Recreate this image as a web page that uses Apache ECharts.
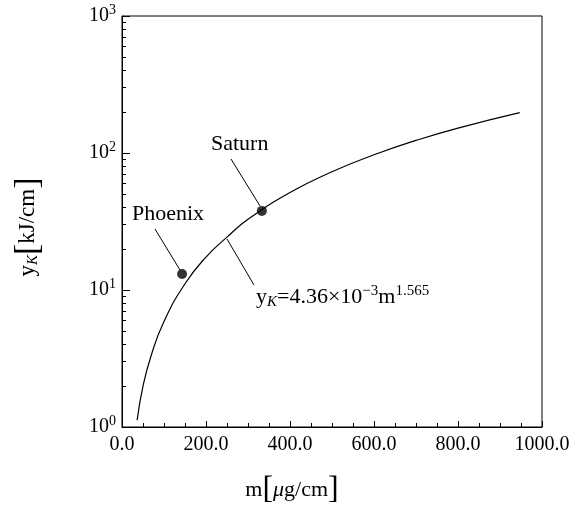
<!DOCTYPE html>
<html>
<head>
<meta charset="utf-8">
<script src="https://cdn.jsdelivr.net/npm/echarts@6/dist/echarts.min.js"></script>
<style>html,body{margin:0;background:#fff}#c{width:584px;height:514px}</style>
</head>
<body>
<div id="c"></div>
<script>
// values
var curveM = [36, 50, 70, 100, 150, 200, 250, 300, 400, 500, 600, 700, 800, 947];
var curveY = [1.12, 1.99, 3.37, 5.89, 11.1, 17.4, 24.3, 32.8, 51.5, 73, 97, 123.5, 152, 197];
var pointM = [143, 333];
var pointY = [13.1, 37.8];
var pointNames = ['Phoenix', 'Saturn'];

var F = 'Liberation Serif';
var chart = echarts.init(document.getElementById('c'));
chart.setOption({
  animation: false,
  grid: {left: 122, right: 42, top: 16, bottom: 87, show: true, borderColor: '#000', borderWidth: 1},
  xAxis: {
    type: 'value', min: 0, max: 1000, interval: 200,
    axisLine: {lineStyle: {color: '#000'}},
    axisTick: {inside: true, length: 6, lineStyle: {color: '#000'}},
    minorTick: {show: true, splitNumber: 4, length: 4, lineStyle: {color: '#000'}},
    splitLine: {show: false},
    axisLabel: {color: '#000', fontFamily: F, fontSize: 20, margin: 8,
      formatter: function (v) { return v.toFixed(1); }}
  },
  yAxis: {
    type: 'log', logBase: 10, min: 1, max: 1000,
    axisLine: {lineStyle: {color: '#000'}},
    axisTick: {inside: true, length: 8, lineStyle: {color: '#000'}},
    minorTick: {show: true, splitNumber: 9, length: 4, lineStyle: {color: '#000'}},
    splitLine: {show: false},
    axisLabel: {color: '#000', fontFamily: F, fontSize: 20, margin: 6,
      formatter: function (v) { return '10{s|' + Math.round(Math.log10(v)) + '}'; },
      rich: {s: {fontSize: 14, verticalAlign: 'top', padding: [0, 0, 12, 0], fontFamily: F}}}
  },
  series: [
    {type: 'line', data: curveM.map(function (m, i) { return [m, curveY[i]]; }),
      smooth: true, symbol: 'none', lineStyle: {color: '#000', width: 1.2}},
    {type: 'scatter', data: pointM.map(function (m, i) { return {name: pointNames[i], value: [m, pointY[i]]}; }),
      symbolSize: 10, itemStyle: {color: '#000'}}
  ],
  graphic: [
    {type: 'text', left: 211, top: 133, style: {text: 'Saturn', font: '22px "Liberation Serif"', fill: '#000'}},
    {type: 'line', shape: {x1: 231, y1: 159, x2: 260, y2: 206}, style: {stroke: '#000', lineWidth: 1}},
    {type: 'text', left: 132, top: 203, style: {text: 'Phoenix', font: '22px "Liberation Serif"', fill: '#000'}},
    {type: 'line', shape: {x1: 155, y1: 229, x2: 180, y2: 270}, style: {stroke: '#000', lineWidth: 1}},
    {type: 'line', shape: {x1: 227, y1: 239, x2: 254, y2: 285}, style: {stroke: '#000', lineWidth: 1}},
    {type: 'text', left: 256, top: 284, style: {
      text: 'y{sb|K}=4.36×10{sp|−3}m{sp|1.565}', font: '22px "Liberation Serif"', fill: '#000',
      rich: {sb: {fontSize: 15, fontStyle: 'italic', padding: [10, 0, 0, 0], fontFamily: F},
             sp: {fontSize: 15, padding: [0, 0, 12, 0], fontFamily: F}}}},
    {type: 'text', left: 'center', top: 474, style: {
      text: 'm{b|[}{i|μ}g/cm{b|]}', font: '22px "Liberation Serif"', fill: '#000',
      rich: {i: {fontStyle: 'italic', fontSize: 22, fontFamily: F},
             b: {fontSize: 32, fontFamily: F, fontWeight: 100}}}},
    {type: 'text', x: 28, y: 227, rotation: Math.PI / 2, style: {
      text: 'y{sb|K}{b|[}kJ/cm{b|]}', font: '23px "Liberation Serif"', fill: '#000', align: 'center', verticalAlign: 'middle',
      rich: {sb: {fontSize: 15, fontStyle: 'italic', padding: [10, 0, 0, 0], fontFamily: F},
             b: {fontSize: 34, fontFamily: F}}}}
  ]
});
</script>
</body>
</html>
